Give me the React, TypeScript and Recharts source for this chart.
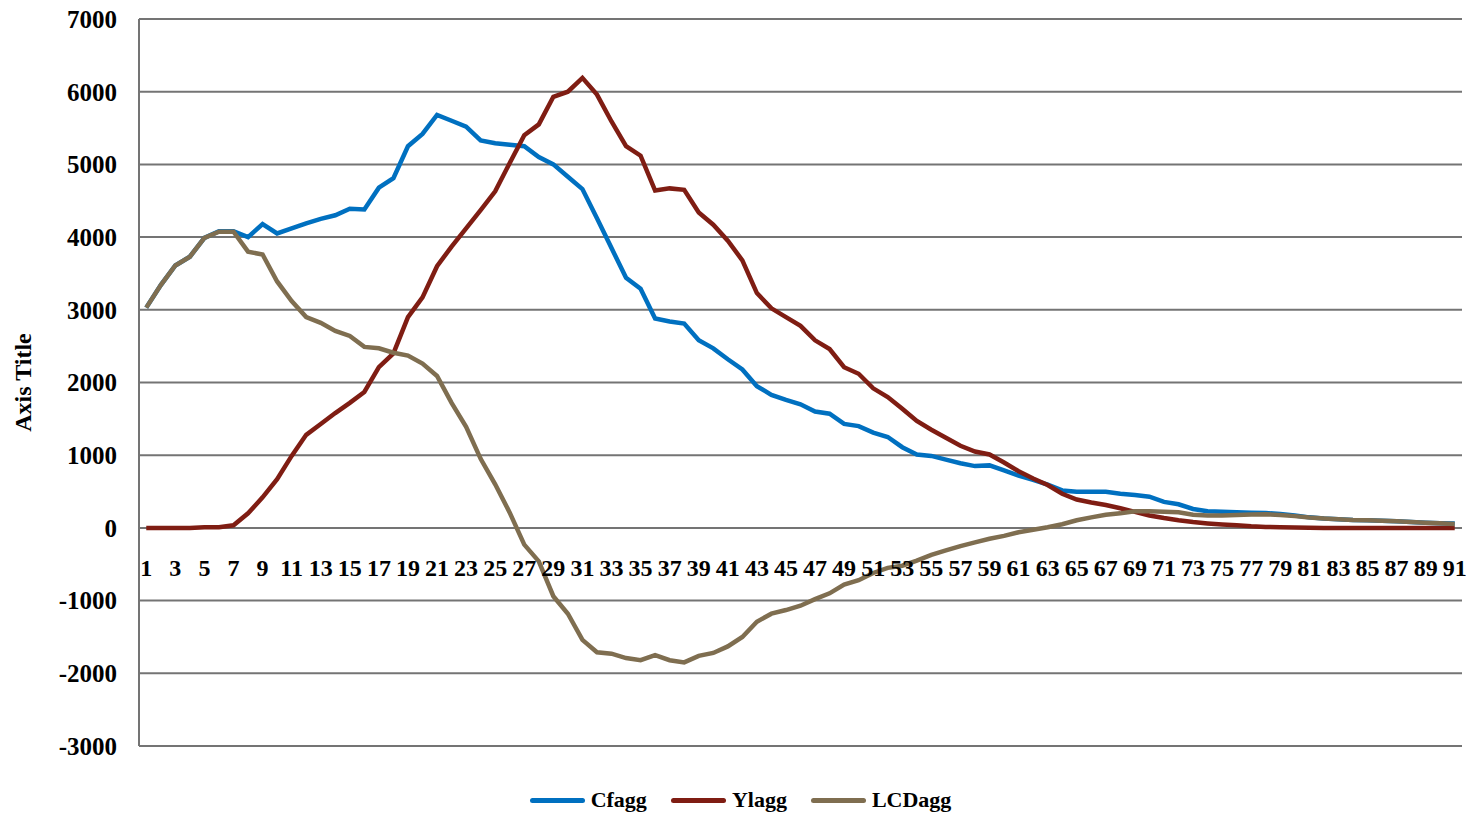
import React from "react";
import {
  LineChart,
  Line,
  XAxis,
  YAxis,
  CartesianGrid,
  Legend,
} from "recharts";

const categories = Array.from({ length: 91 }, (_, k) => k + 1);

const cfagg = [
  3030, 3340, 3610, 3730, 3990, 4080, 4080, 4000, 4180, 4050,
  4120, 4190, 4250, 4300, 4390, 4380, 4680, 4810, 5250, 5420,
  5680, 5600, 5520, 5330, 5290, 5270, 5250, 5100, 5000, 4830,
  4660, 4260, 3850, 3440, 3290, 2880, 2840, 2810, 2580, 2470,
  2320, 2180, 1950, 1830, 1760, 1700, 1600, 1570, 1430, 1400,
  1310, 1250, 1110, 1010, 990, 940, 890, 850, 860, 790,
  720, 660, 595, 515, 498, 496, 496, 470, 452, 430,
  358, 325, 260, 230, 222, 215, 210, 205, 190, 170,
  145, 130, 120, 110, 105, 100, 90, 80, 72, 65, 60,
];

const ylagg = [
  0, 0, 0, 0, 10, 10, 35, 200, 420, 670,
  990, 1280, 1430, 1580, 1720, 1870, 2210, 2400, 2900, 3170,
  3600, 3870, 4120, 4370, 4630, 5020, 5400, 5550, 5930, 6000,
  6190, 5960, 5590, 5250, 5120, 4640, 4670, 4650, 4340, 4170,
  3950, 3680, 3230, 3020, 2900, 2780, 2580, 2460, 2210, 2120,
  1920, 1800, 1640, 1470, 1350, 1240, 1130, 1050, 1010, 900,
  780, 680, 590, 470, 390, 350, 315, 270, 220, 170,
  135, 105, 80, 62, 48, 35, 22, 14, 10, 6,
  3, 0, 0, 0, 0, 0, 0, 0, 0, 0, 0,
];

const lcdagg = [
  3030, 3340, 3610, 3730, 3990, 4075, 4075, 3800, 3760, 3390,
  3120, 2900, 2820, 2710, 2640, 2490, 2470, 2410, 2370, 2260,
  2090, 1720, 1390, 950, 600, 210, -230, -460, -940, -1180,
  -1540, -1710, -1730, -1790, -1820, -1750, -1820, -1850, -1760, -1720,
  -1630, -1500, -1290, -1180, -1130, -1070, -980, -900, -780, -720,
  -620, -550, -520, -450, -370, -310, -250, -200, -150, -110,
  -60, -25, 10, 50, 105, 145, 180, 200, 230, 230,
  222, 215, 180, 170, 172, 178, 185, 188, 178, 162,
  142, 130, 120, 110, 105, 100, 90, 80, 72, 65, 55,
];

const yTicks = [-3000, -2000, -1000, 0, 1000, 2000, 3000, 4000, 5000, 6000, 7000];

const series = [
  { key: "Cfagg", color: "#0070c0" },
  { key: "Ylagg", color: "#7f1d13" },
  { key: "LCDagg", color: "#7f6e50" },
];

const data = categories.map((c, i) => ({
  cat: c,
  Cfagg: cfagg[i],
  Ylagg: ylagg[i],
  LCDagg: lcdagg[i],
}));

const FONT = "'Liberation Serif', 'Times New Roman', serif";
const W = 1472;
const H = 820;
const TOP = 19;
const RIGHT = 10;
const LEFT = 19;
const Y_AXIS_W = 120;
const PLOT_BOTTOM = 746;
const Y_MIN = -3000;
const Y_MAX = 7000;
// where the zero line sits; Excel draws the category labels just under it
const ZERO_Y = TOP + ((PLOT_BOTTOM - TOP) * Y_MAX) / (Y_MAX - Y_MIN);
// half a category on each side, like Excel's "between tick marks"
const PLOT_W = W - LEFT - Y_AXIS_W - RIGHT;
const HALF_BAND = PLOT_W / categories.length / 2;

const XTick = (props: any) => {
  const { x, payload } = props;
  return (
    <text
      x={x}
      y={ZERO_Y + 48}
      textAnchor="middle"
      fontFamily={FONT}
      fontWeight="bold"
      fontSize={24}
      fill="#000"
    >
      {payload.value}
    </text>
  );
};

const AxisTitle = (props: any) => {
  const vb = props.viewBox;
  const cx = vb.x + 4;
  const cy = vb.y + vb.height / 2;
  return (
    <text
      x={cx}
      y={cy}
      transform={`rotate(-90, ${cx}, ${cy})`}
      textAnchor="middle"
      dominantBaseline="central"
      fontFamily={FONT}
      fontWeight="bold"
      fontSize={24}
      fill="#000"
    >
      Axis Title
    </text>
  );
};

const renderLegend = () => (
  <div
    style={{
      display: "flex",
      justifyContent: "center",
      alignItems: "center",
      height: 32,
      fontFamily: FONT,
      fontWeight: "bold",
      fontSize: 22,
      color: "#000",
    }}
  >
    {series.map((s, i) => (
      <div
        key={s.key}
        style={{
          display: "flex",
          alignItems: "center",
          marginRight: i < series.length - 1 ? 24 : 0,
        }}
      >
        <span
          style={{
            display: "inline-block",
            width: 55,
            height: 5,
            borderRadius: 3,
            background: s.color,
            marginRight: 6,
          }}
        />
        <span>{s.key}</span>
      </div>
    ))}
  </div>
);

export default function App() {
  return (
    <div style={{ position: "absolute", left: 0, top: 0, background: "#fff" }}>
      <LineChart
        width={W}
        height={H}
        data={data}
        margin={{ top: TOP, right: RIGHT, bottom: 14, left: LEFT }}
      >
        <CartesianGrid vertical={false} stroke="#747474" strokeWidth={2} />
        <XAxis
          dataKey="cat"
          interval={1}
          height={28}
          padding={{ left: HALF_BAND, right: HALF_BAND }}
          axisLine={false}
          tickLine={false}
          tick={<XTick />}
        />
        <YAxis
          width={Y_AXIS_W}
          domain={[Y_MIN, Y_MAX]}
          ticks={yTicks}
          interval={0}
          axisLine={{ stroke: "#747474", strokeWidth: 2 }}
          tickLine={false}
          tickSize={0}
          tickMargin={22}
          tick={{ fill: "#000", fontFamily: FONT, fontWeight: "bold", fontSize: 25 }}
          label={AxisTitle}
        />
        <Legend
          verticalAlign="bottom"
          content={renderLegend}
          wrapperStyle={{ bottom: 4 }}
        />
        {series.map((s) => (
          <Line
            key={s.key}
            type="linear"
            dataKey={s.key}
            stroke={s.color}
            strokeWidth={4.5}
            dot={false}
            activeDot={false}
            isAnimationActive={false}
          />
        ))}
      </LineChart>
    </div>
  );
}
